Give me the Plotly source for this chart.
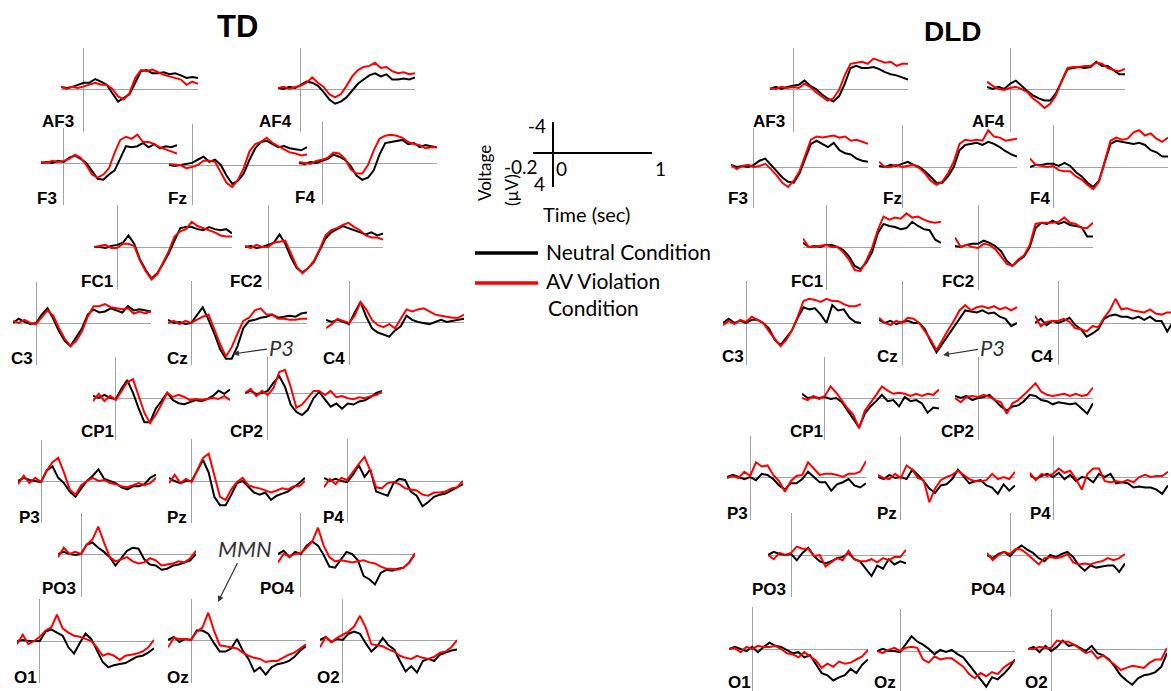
import plotly.graph_objects as go

# ---------------- data ----------------
TIME = [-0.2, -0.15, -0.1, -0.05, 0.0, 0.05, 0.1, 0.15, 0.2, 0.25, 0.3, 0.35, 0.4,
        0.45, 0.5, 0.55, 0.6, 0.65, 0.7, 0.75, 0.8, 0.85, 0.9, 0.95, 1.0]
CHANNELS = ["AF3", "AF4", "F3", "Fz", "F4", "FC1", "FC2", "C3", "Cz", "C4",
            "CP1", "CP2", "P3", "Pz", "P4", "PO3", "PO4", "O1", "Oz", "O2"]
GROUPS = ["TD", "DLD"]
CONDITIONS = ["Neutral Condition", "AV Violation Condition"]

# TD group (voltage in microvolts, negative plotted upward)
TD_AF3_NEU = [-0.2,-0.1,-0.2,-0.4,-0.6,-0.6,-0.95,-0.7,-0.4,0.4,1.2,0.85,0.5,-0.6,-1.7,-1.8,-1.5,-1.5,-1.6,-1.4,-1.5,-1.3,-1.05,-1.15,-1.05]
TD_AF3_AV = [-0.2,0,-0.2,-0.1,-0.25,-0.4,-0.6,-0.4,-0.4,0,0.7,1.0,0.4,-1.05,-1.8,-1.7,-1.85,-1.6,-1.35,-1.2,-1.05,-0.9,-0.4,-0.7,-0.5]
TD_AF4_NEU = [-0.1,0,-0.2,-0.1,-0.4,-0.7,-0.6,-0.3,0.3,1.0,1.4,1.2,0.8,0.2,-0.5,-0.9,-1.3,-1.5,-1.2,-1.4,-0.9,-0.9,-1.0,-0.9,-1.1]
TD_AF4_AV = [-0.1,-0.2,0,-0.2,-0.3,-0.6,-1.1,-0.6,-0.2,0.5,0.8,0.5,-0.3,-1.2,-1.8,-2.1,-2.2,-2.5,-2.0,-2.1,-1.7,-1.5,-1.6,-1.4,-1.5]
TD_F3_NEU = [0,-0.1,0,-0.2,-0.1,-0.5,-0.7,-0.4,0,0.8,1.5,1.6,1.1,0.7,-0.4,-1.6,-1.5,-1.6,-1.9,-1.5,-1.8,-1.4,-1.6,-1.5,-1.7]
TD_F3_AV = [-0.1,0,-0.2,-0.1,-0.2,-0.4,-0.8,-0.5,0.2,1.1,1.4,1.1,0.5,-1.0,-2.2,-2.5,-2.3,-2.7,-2.0,-2.0,-1.8,-1.5,-1.3,-1.1,-0.9]
TD_Fz_NEU = [0,0.1,0,-0.1,-0.2,-0.5,-0.8,-0.3,-0.5,0,1.0,1.8,1.5,0.8,-0.5,-1.6,-2.2,-2.3,-2.0,-1.7,-1.8,-1.6,-1.5,-1.4,-1.7]
TD_Fz_AV = [-0.1,0,0,0.3,0.2,0,-0.4,-0.4,-0.3,0.7,1.7,2.1,1.4,0.3,-1.3,-2.0,-2.2,-2.6,-2.1,-1.8,-1.5,-1.2,-1.1,-0.9,-1.0]
TD_F4_NEU = [0,0.1,-0.1,0,-0.2,-0.4,-0.8,-0.6,-0.3,0.3,1.2,1.6,1.4,0.7,-0.8,-1.9,-2.0,-2.1,-2.2,-1.8,-1.9,-1.5,-1.7,-1.6,-1.5]
TD_F4_AV = [-0.1,0,0.1,-0.2,-0.3,-0.5,-1.0,-0.9,-0.4,0.6,1.0,1.0,0.2,-1.2,-2.3,-2.6,-2.7,-2.6,-2.4,-2.0,-1.8,-1.7,-1.4,-1.5,-1.5]
TD_FC1_NEU = [0,0,0.1,-0.1,-0.2,-0.4,-1.1,-0.3,1.2,2.2,3.0,2.5,1.6,0.6,-0.6,-1.8,-1.9,-1.9,-1.7,-1.6,-1.9,-1.7,-1.6,-1.7,-1.3]
TD_FC1_AV = [0,-0.1,-0.2,0.1,0.1,-0.3,-0.3,-0.1,1.3,2.3,3.1,2.6,1.5,0.4,-1.0,-1.5,-1.7,-2.4,-2.0,-1.8,-1.6,-1.4,-1.1,-1.0,-1.0]
TD_FC2_NEU = [0,-0.1,0.1,0,-0.2,-0.4,-1.2,-0.3,1.0,2.0,2.4,2.0,1.4,0.3,-0.8,-1.4,-1.7,-2.0,-1.8,-1.6,-1.4,-1.2,-1.4,-1.1,-1.3]
TD_FC2_AV = [-0.1,0.1,-0.2,0,0,-0.4,-0.5,-0.6,0.6,1.9,2.5,2.0,1.3,0.2,-1.1,-1.6,-1.8,-2.1,-2.3,-1.9,-1.6,-1.1,-0.9,-0.9,-0.7]
TD_C3_NEU = [0,-0.4,-0.1,0.1,0,-0.8,-1.4,-0.4,0.8,1.7,2.2,1.3,0.5,-0.8,-1.3,-1.0,-1.1,-1.4,-1.2,-1.0,-1.6,-1.2,-1.3,-1.2,-1.1]
TD_C3_AV = [-0.2,0,-0.3,0,0.1,-0.5,-1.2,-0.7,0.5,1.5,2.2,1.7,0.8,-0.6,-1.6,-1.6,-1.8,-1.5,-1.4,-1.3,-1.4,-0.9,-1.1,-0.9,-1.1]
TD_Cz_NEU = [-0.3,0,-0.1,0.1,0,-0.8,-1.5,-0.3,1.0,2.5,3.4,3.4,2.2,0.5,-0.2,-0.3,-0.5,-0.6,-0.8,-0.5,-0.6,-0.7,-0.6,-0.9,-1.0]
TD_Cz_AV = [0,-0.2,0.1,-0.2,0,-0.3,-0.6,-0.8,0.6,2.0,3.2,2.3,1.0,-0.2,-0.5,-1.2,-1.4,-0.8,-0.8,-0.4,-0.4,-0.3,-0.3,-0.4,-0.4]
TD_C4_NEU = [-0.2,0,-0.2,0,0.2,-0.9,-1.9,-0.5,0.6,1.0,1.2,1.4,0.8,0.4,-0.6,-0.2,0,0.1,0.2,0,-0.2,0,-0.1,-0.2,-0.3]
TD_C4_AV = [0.6,0.2,-0.3,-0.1,0.1,-0.6,-1.9,-1.2,-0.2,0.3,0.5,0.2,0.6,-0.3,-1.2,-1.0,-1.2,-1.3,-1.0,-0.7,-0.6,-0.5,-0.4,-0.4,-0.7]
TD_CP1_NEU = [-0.2,0,-0.3,0,0.1,-0.9,-1.7,-0.5,1.0,2.3,2.3,1.0,0.3,-0.5,0.2,0.5,0.6,0.4,0.2,0.3,0.1,-0.2,-0.7,-0.4,-0.8]
TD_CP1_AV = [0.3,-0.4,0.3,-0.2,0.2,-0.6,-1.5,-1.8,-0.3,1.4,2.4,1.6,0.6,-0.5,-0.1,-0.3,-0.1,0.2,0.1,0.2,0.1,0,0.1,-0.2,0.2]
TD_CP2_NEU = [0,-0.2,0.1,0,-0.2,-1.0,-1.6,-0.6,1.1,1.8,2.1,1.6,0.5,-0.1,0.6,1.3,1.0,1.5,1.0,1.1,0.8,0.7,0.4,0,-0.2]
TD_CP2_AV = [0,-0.4,0.3,-0.2,0.2,-0.5,-2.0,-2.2,-0.6,1.4,1.1,0.4,-0.2,-0.2,0.2,-0.2,0.4,0.3,0.5,0.6,0.4,0.5,0.3,0.2,-0.1]
TD_P3_NEU = [0,-0.3,-0.1,0,0.1,-1.0,-1.4,-0.3,0.2,1.0,1.5,0.7,0,-0.5,-1.1,-0.2,0,0.2,0.6,0.8,0.5,0.5,0.3,-0.3,-0.6]
TD_P3_AV = [0.3,-0.5,0.2,-0.3,0.1,-1.0,-1.8,-2.2,-0.8,0.8,1.3,0.4,0,-0.3,0,-0.1,0.2,0.3,0.5,0.6,0.4,0.2,0.4,0.2,-0.3]
TD_Pz_NEU = [-0.3,0,0.2,0,0,-1.0,-2.0,-0.8,1.5,2.3,2.3,1.3,0.2,0,0.6,1.1,1.3,1.1,1.8,1.4,1.2,1.0,0.6,0.2,-0.3]
TD_Pz_AV = [0.2,-0.6,0.2,-0.2,0.1,-1.0,-2.2,-2.6,-0.6,1.5,1.8,0.8,0.1,-0.3,0.4,0.6,0.7,0.9,1.1,0.9,0.7,0.8,0.5,0.5,0]
TD_P4_NEU = [-0.3,0,-0.2,0,0.1,-0.6,-1.5,-0.4,-1.1,1.0,1.2,1.4,0.2,-0.2,-0.1,1.0,1.4,2.4,2.0,1.5,1.3,1.2,0.9,0.6,0.3]
TD_P4_AV = [0.6,-0.2,0.3,-0.3,-0.1,-0.9,-1.6,-2.3,-1.0,0.6,0.7,0.2,0.1,0.3,0.7,0.8,0.9,1.3,1.4,1.1,1.1,1.0,0.7,0.6,0]
TD_PO3_NEU = [0,-0.2,0,0.1,0,-0.9,-1.1,-0.6,-0.2,0.3,1.1,0.4,-0.3,-0.6,-0.5,0.5,1.0,1.1,1.5,1.4,1.1,1.0,0.8,0.6,0]
TD_PO3_AV = [0.3,-0.6,0,-0.2,0,-0.9,-1.4,-2.6,-1.1,0.3,0.7,0.5,0.3,0.7,0.9,0.8,0.4,0.6,1.1,1.0,0.9,0.7,0.8,0.4,-0.3]
TD_PO4_NEU = [0,-0.3,0.3,-0.2,0,-0.8,-1.2,-0.8,0.1,1.2,1.3,0.6,-0.2,0,0.6,2.1,2.4,2.9,1.8,1.5,1.6,1.4,1.3,0.8,0]
TD_PO4_AV = [0.8,0,0.2,0,-0.1,-0.6,-1.2,-2.5,-0.8,0.3,0.7,0.6,0.7,0.8,0.7,0.6,0.8,0.9,1.2,1.4,1.4,1.5,1.3,0.8,-0.1]
TD_O1_NEU = [0,-0.1,0,0,0,-0.9,-1.1,-0.8,-0.5,0.6,1.2,0.2,-0.7,-0.2,0.9,2.0,2.5,2.3,2.2,2.1,1.8,1.5,1.4,1.1,0.7]
TD_O1_AV = [0.3,-0.6,0.3,0,-0.4,-1.0,-1.3,-2.5,-1.2,-0.8,-0.5,-0.4,-0.2,0,0.6,1.4,1.2,1.4,1.8,1.4,1.3,1.2,1.0,0.6,-0.1]
TD_Oz_NEU = [0,-0.3,0.2,-0.1,0,-0.9,-0.9,-0.6,0.3,1.1,1.1,0.8,-0.1,1.0,1.8,3.0,2.6,3.3,2.6,2.3,2.2,2.0,1.6,1.0,0.6]
TD_Oz_AV = [0.7,-0.2,-0.1,-0.1,0,-0.8,-1.2,-2.6,-0.9,0.5,0.6,0.7,0.8,1.2,1.5,1.7,1.8,2.1,2.0,2.0,1.7,1.4,1.2,0.8,0.4]
TD_O2_NEU = [0,-0.3,0.2,-0.1,0,-0.6,-0.8,-0.6,0.3,1.1,0.6,-0.2,0.5,0.9,2.0,3.0,2.5,3.1,2.0,1.8,2.0,1.4,1.2,1.0,0.9]
TD_O2_AV = [0.7,-0.3,0.2,-0.2,-0.5,-0.8,-1.3,-2.3,-1.2,0.4,0.5,0.6,0.9,1.1,1.5,1.7,1.8,1.5,1.7,1.8,1.6,1.2,1.1,0.7,0]

# DLD group
DLD_AF3_NEU = [0,-0.2,0,-0.2,-0.3,-0.4,-0.8,-0.3,0,0.5,0.9,1.2,0.7,-0.5,-2.0,-2.2,-2.0,-2.0,-2.1,-1.9,-1.6,-1.4,-1.3,-1.1,-0.9]
DLD_AF3_AV = [-0.1,0,-0.2,-0.1,-0.2,-0.1,-0.5,-0.2,0.3,0.7,1.1,0.9,0.1,-1.3,-2.4,-2.5,-2.6,-2.4,-2.9,-2.7,-2.5,-2.6,-2.2,-2.4,-2.4]
DLD_AF4_NEU = [-0.2,0,-0.2,0,-0.5,-0.8,-0.3,0.2,0.6,0.9,1.1,1.1,0.4,-0.8,-1.9,-2.0,-2.1,-2.0,-2.1,-2.6,-2.2,-2.2,-1.8,-1.4,-1.4]
DLD_AF4_AV = [-0.7,-0.3,0,0.1,-0.1,-0.2,0,0.3,0.9,1.3,1.8,1.4,0.6,-0.8,-2.0,-2.1,-2.1,-2.2,-2.2,-2.5,-2.4,-2.0,-1.8,-1.7,-1.9]
DLD_F3_NEU = [-0.2,0,-0.1,0,-0.2,-0.6,-0.8,-0.2,0.5,1.0,1.4,1.5,0.6,-0.8,-2.2,-2.5,-2.2,-1.9,-2.3,-1.6,-1.3,-1.2,-0.8,-0.6,-0.5]
DLD_F3_AV = [-0.2,0.2,-0.1,-0.2,0,-0.1,-0.3,0.2,0.8,1.5,1.9,1.3,0.4,-1.2,-2.6,-2.9,-2.8,-2.9,-3.0,-2.8,-2.9,-2.5,-2.6,-2.4,-2.2]
DLD_Fz_NEU = [-0.1,0,-0.2,-0.1,-0.3,-0.5,-0.2,0,0.4,1.0,1.5,1.5,0.9,0,-1.6,-2.1,-2.2,-2.3,-2.1,-2.4,-2.2,-1.9,-1.5,-1.2,-1.0]
DLD_Fz_AV = [-0.5,0,0,-0.2,0,-0.1,-0.2,0.1,0.6,1.3,1.7,1.4,0.6,-0.5,-2.2,-2.6,-2.5,-2.6,-2.5,-3.5,-2.9,-2.8,-2.5,-2.6,-2.7]
DLD_F4_NEU = [0,-0.2,-0.2,-0.3,-0.3,-0.1,-0.4,-0.1,0.5,0.9,1.5,1.9,1.3,-0.5,-2.2,-2.5,-2.4,-2.3,-2.2,-2.3,-2.1,-1.6,-1.4,-1.0,-1.0]
DLD_F4_AV = [-0.8,-0.2,-0.1,0,-0.1,0.3,0.4,0.4,0.9,1.2,1.7,2.1,1.4,-0.6,-2.5,-2.8,-2.6,-2.7,-3.3,-3.5,-3.0,-3.2,-2.7,-2.4,-2.8]
DLD_FC1_NEU = [-0.4,0,-0.1,0,-0.2,-0.2,0,0.3,0.9,1.8,2.1,1.5,0.5,-1.3,-2.2,-2.0,-1.9,-1.7,-1.8,-2.4,-2.0,-1.7,-1.6,-0.7,-0.4]
DLD_FC1_AV = [-0.8,0,0,-0.1,-0.2,0,0,0.5,1.2,2.2,2.3,1.3,0.1,-1.6,-2.9,-2.6,-2.8,-2.7,-3.2,-2.8,-2.9,-2.6,-2.4,-2.3,-2.4]
DLD_FC2_NEU = [-0.1,0,-0.2,-0.3,-0.3,-0.6,-0.4,-0.1,0.4,1.3,1.8,1.3,0.9,0,-1.8,-2.3,-2.2,-2.5,-2.2,-2.4,-2.1,-2.0,-1.9,-1.0,-1.0]
DLD_FC2_AV = [-0.9,0,-0.2,0,0.1,-0.3,-0.2,0.2,0.9,1.6,1.8,1.2,0.8,-0.2,-2.2,-2.3,-2.3,-2.3,-2.4,-2.8,-2.3,-2.2,-1.8,-1.8,-2.3]
DLD_C3_NEU = [0,-0.4,0,-0.2,0,-0.3,-0.3,0,0.5,1.6,2.1,1.4,0.7,-0.5,-1.5,-1.3,-1.4,-0.8,0,-1.7,-1.2,-1.3,-0.5,-0.1,0]
DLD_C3_AV = [0.2,-0.2,0.1,-0.3,-0.1,-0.6,-0.3,0,0.8,1.5,2.2,1.6,0.7,-0.6,-2.1,-2.3,-2.2,-2.0,-2.3,-2.1,-2.1,-1.8,-1.6,-1.6,-1.8]
DLD_Cz_NEU = [-0.3,0,-0.2,0.1,-0.1,-0.2,0,0,0.6,1.8,2.8,2.0,1.2,0.4,-0.5,-1.2,-1.1,-1.0,-1.2,-0.9,-1.0,-0.6,-0.4,0.3,0]
DLD_Cz_AV = [-0.5,0,0.2,-0.2,0,-0.5,-0.4,0,0.8,1.6,2.6,1.6,0.7,-0.2,-1.2,-1.7,-1.2,-1.5,-1.6,-1.4,-1.6,-1.3,-1.5,-1.2,-1.5]
DLD_C4_NEU = [0,-0.4,0.2,-0.2,0,-0.2,-0.5,0.2,0.6,1.3,1.0,0.6,-0.4,-0.7,-0.8,-0.6,-0.6,-0.4,-0.6,-0.3,-0.6,-0.2,-0.2,0.8,-0.1]
DLD_C4_AV = [-0.7,0.3,-0.1,-0.2,-0.2,-0.4,-0.1,0.5,0.6,0.8,0.3,0.4,-0.5,-1.2,-2.3,-1.3,-1.4,-1.2,-1.1,-1.0,-1.3,-0.9,-0.8,-1.0,-1.0]
DLD_CP1_NEU = [-0.4,0,-0.1,0,-0.1,0.1,0,0.4,1.2,2.0,2.8,1.5,0.8,0.3,-0.3,0.3,0.2,0.8,-0.1,0.3,0.2,0.5,1.4,0.9,1.0]
DLD_CP1_AV = [0,0.2,-0.2,0.1,-0.2,-1.1,-0.5,0.3,1.0,1.6,2.9,1.2,0.5,-0.3,-1.1,-0.7,-0.4,-0.5,-0.4,-0.2,-0.4,-0.2,-0.4,-0.3,-0.8]
DLD_CP2_NEU = [-0.2,0,-0.2,0.2,0,-0.1,-0.3,0.3,0.8,1.2,0.8,0.7,0.3,-0.3,-0.2,0.2,0.3,0.6,0.4,0.5,0.6,0.5,1.0,1.5,0.5]
DLD_CP2_AV = [0,0.4,-0.1,-0.2,-0.1,-0.3,-0.1,0.2,0.4,1.5,0.5,0.2,-0.3,-0.9,-1.4,-0.6,-0.3,-0.2,-0.3,-0.4,-0.2,-0.4,-0.2,-0.3,-1.0]
DLD_P3_NEU = [0,-0.2,0,0.2,0,0.3,-0.3,-0.2,0.2,0.8,1.2,0.6,0.6,0.2,-0.5,0,0.5,0.5,1.3,0.7,0.5,0.2,0.8,1.0,0.6]
DLD_P3_AV = [0.1,-0.1,0.1,-0.5,-0.1,-1.4,-1.0,-1.1,-0.2,0.4,1.4,0.4,-0.1,-0.2,-1.4,-0.8,-0.2,-0.3,-0.3,-0.2,0,-0.3,-0.3,-0.5,-1.5]
DLD_Pz_NEU = [0,0.2,-0.2,0.1,0,0.2,-0.7,-0.2,0.4,1.1,1.5,0.8,0.7,0.2,-0.7,-0.1,0.6,0.4,0.3,0.8,1.0,1.6,0.7,1.3,0.8]
DLD_Pz_AV = [-0.2,0.1,0.2,-0.3,0.1,-1.1,-0.7,0.1,0.3,2.4,1.1,0.3,0,-0.2,-0.6,-0.2,0.2,0.4,0.4,0.3,-0.3,0.2,0,0.2,-0.5]
DLD_P4_NEU = [-0.2,0.2,-0.1,-0.3,0,-0.4,0.2,-0.2,0.4,0,0.1,0.5,-0.3,0,-0.3,0.6,0.5,0.6,1.0,0.9,1.0,1.0,1.2,1.6,0.8]
DLD_P4_AV = [-0.4,0.3,-0.3,-0.1,-0.3,-0.8,-0.4,-0.6,0.2,1.2,-0.3,-0.8,-0.8,0.4,0.5,0.4,0.5,0.3,0.5,0,-0.2,0,-0.1,-0.1,-0.5]
DLD_PO3_NEU = [0,-0.3,-0.1,0,-0.1,0.5,-0.2,-0.7,0.1,0.6,0.8,0.6,0.3,0.2,-0.2,0.4,0.6,1.3,2.0,1.0,1.3,0.4,0.9,0.6,0.8]
DLD_PO3_AV = [0,0.4,-0.2,0,-0.2,-0.8,-0.6,-0.6,0.1,0,1.1,0.7,0.3,0.5,-0.4,0.4,0.6,0.6,0.4,0.7,0.3,0.5,0.2,0.2,-0.5]
DLD_PO4_NEU = [0,0.3,-0.1,-0.3,0.1,-0.5,-0.9,-0.5,-0.2,0.3,0.6,0,0.2,-0.1,-0.3,0.2,1.0,1.5,1.0,1.2,1.1,1.0,1.0,1.6,0.8]
DLD_PO4_AV = [-0.2,0.5,0,-0.3,-0.1,-0.6,-0.5,-0.1,0.4,0.9,0.3,0.2,0.3,0.2,-0.1,0.7,0.9,0.8,0.9,0.7,0.6,0.3,0.5,0.3,-0.1]
DLD_O1_NEU = [0,-0.2,0,0.2,-0.2,0.3,-0.2,-0.6,-0.3,-0.2,0.1,0.4,0.3,0.8,0.6,1.4,2.3,2.5,3.0,2.7,2.5,1.9,2.3,1.5,1.0]
DLD_O1_AV = [0,-0.1,0.3,-0.2,0,-0.3,-0.2,-0.2,-0.3,0,0.4,0.5,0.8,0.3,0.7,1.1,1.8,1.4,1.7,1.2,1.4,1.3,1.0,0.7,0.1]
DLD_Oz_NEU = [0,-0.2,0,0,0.1,-0.7,-1.4,-0.9,-0.6,-0.2,0.3,-0.1,0.1,-0.1,0.3,0.6,1.3,2.0,2.7,3.4,2.5,2.7,2.2,1.6,0.8]
DLD_Oz_AV = [0,0.2,-0.1,-0.3,0,-0.3,-0.4,-0.3,0.8,1.1,0.5,0.8,0.7,0.7,1.1,1.5,2.2,2.6,2.1,2.4,2.0,2.2,1.6,1.2,0.9]
DLD_O2_NEU = [0,-0.2,0.3,-0.3,0.2,-0.2,-0.8,-0.3,-0.4,-0.1,0.2,-0.3,0.4,0.6,1.0,1.7,2.5,3.0,3.4,2.8,2.5,2.4,2.2,1.7,0.4]
DLD_O2_AV = [0,0,-0.2,-0.1,-0.1,-0.8,-0.7,-0.7,-0.4,0,0.4,0.2,0.9,0.6,1.1,1.5,2.0,1.8,1.6,1.7,1.8,1.3,1.0,1.0,-0.1]

# ---------------- layout geometry (pixels: x_left, x_right, y_top, y_zero, y_bottom) ----------------
W, H = 1171, 691
GEOM = {
    "TD": {
        "AF3": (61, 198, 48, 89, 132), "AF4": (278, 415, 48, 89, 132),
        "F3": (41, 177, 128, 163, 205), "Fz": (169, 307, 124, 165, 205), "F4": (299, 437, 122, 163, 205),
        "FC1": (94, 232, 205, 247, 289), "FC2": (245, 383, 205, 247, 289),
        "C3": (13, 151, 282, 323, 365), "Cz": (168, 307, 281, 323, 365), "C4": (326, 464, 281, 322, 365),
        "CP1": (93, 230, 357, 398, 440), "CP2": (245, 382, 357, 393, 440),
        "P3": (18, 156, 440, 481, 523), "Pz": (169, 305, 439, 481, 523), "P4": (324, 463, 439, 481, 523),
        "PO3": (58, 196, 513, 554, 597), "PO4": (278, 415, 513, 554, 597),
        "O1": (17, 154, 599, 641, 683), "Oz": (168, 306, 599, 640, 683), "O2": (320, 457, 599, 640, 683),
    },
    "DLD": {
        "AF3": (770, 908, 48, 89, 132), "AF4": (987, 1125, 48, 89, 132),
        "F3": (731, 868, 128, 167, 208), "Fz": (879, 1017, 125, 167, 208), "F4": (1030, 1168, 125, 167, 208),
        "FC1": (803, 941, 205, 247, 290), "FC2": (955, 1093, 205, 247, 290),
        "C3": (723, 861, 281, 323, 365), "Cz": (879, 1017, 281, 323, 365), "C4": (1035, 1173, 281, 323, 365),
        "CP1": (802, 939, 357, 398, 440), "CP2": (955, 1093, 357, 398, 440),
        "P3": (727, 866, 436, 477, 520), "Pz": (878, 1015, 436, 477, 520), "P4": (1030, 1168, 436, 477, 520),
        "PO3": (768, 906, 513, 555, 597), "PO4": (987, 1125, 513, 555, 597),
        "O1": (729, 868, 607, 649, 691), "Oz": (877, 1015, 609, 651, 691), "O2": (1028, 1167, 609, 649, 691),
    },
}
LABEL_POS = {
    "TD": {
        "AF3": (58, 121), "AF4": (275, 121), "F3": (47, 199), "Fz": (177, 199), "F4": (305, 197),
        "FC1": (97, 281), "FC2": (246, 281), "C3": (22, 358), "Cz": (177, 358), "C4": (334, 358),
        "CP1": (97, 431), "CP2": (246, 431), "P3": (29, 517), "Pz": (177, 517), "P4": (333, 517),
        "PO3": (59, 588), "PO4": (277, 588), "O1": (25, 677), "Oz": (178, 677), "O2": (328, 677),
    },
    "DLD": {
        "AF3": (769, 121), "AF4": (988, 121), "F3": (738, 199), "Fz": (892, 199), "F4": (1040, 199),
        "FC1": (807, 281), "FC2": (958, 281), "C3": (733, 357), "Cz": (887, 357), "C4": (1042, 357),
        "CP1": (807, 431), "CP2": (957, 431), "P3": (737, 513), "Pz": (887, 513), "P4": (1040, 513),
        "PO3": (769, 589), "PO4": (988, 589), "O1": (739, 682), "Oz": (885, 682), "O2": (1036, 682),
    },
}
PX_PER_UV = 10.5
AXIS_GREY = "#a3a3a3"
COLORS = {"Neutral Condition": "#000000", "AV Violation Condition": "#ff0000"}
LABEL_FONT = dict(family="Liberation Sans, Arial, sans-serif", size=17, color="black")
TEXT_FONT = dict(family="Lato, Open Sans, sans-serif", size=21, color="black")
TICK_FONT = dict(family="Lato, Open Sans, sans-serif", size=19, color="black")
SMALL_FONT = dict(family="Lato, Open Sans, sans-serif", size=17, color="black")


def px(x):
    return x / W


def py(y):
    return 1 - y / H


def text_note(txt, x, y, font, xanchor="center", yanchor="middle", **kw):
    return dict(x=px(x), y=py(y), xref="paper", yref="paper", text=txt, showarrow=False,
                font=font, xanchor=xanchor, yanchor=yanchor, **kw)


fig = go.Figure()
layout = dict(
    width=W, height=H, autosize=False,
    margin=dict(l=0, r=0, t=0, b=0, pad=0),
    paper_bgcolor="white", plot_bgcolor="rgba(0,0,0,0)",
    showlegend=False,
)
annotations = []

n = 0
for g in GROUPS:
    for ch in CHANNELS:
        n += 1
        x0, x1, yt, yb, ybt = GEOM[g][ch]
        t0, t1 = TIME[0], TIME[-1]
        xr_end = t1
        if x1 > W:
            xr_end = t0 + (W - x0) / (x1 - x0) * (t1 - t0)
            x1 = W
        ybt_c = min(ybt, H)
        ytop_val = -(yb - yt) / PX_PER_UV
        ybot_val = (ybt_c - yb) / PX_PER_UV
        xa = "xaxis" if n == 1 else f"xaxis{n}"
        ya = "yaxis" if n == 1 else f"yaxis{n}"
        xr = "x" if n == 1 else f"x{n}"
        yr = "y" if n == 1 else f"y{n}"
        layout[xa] = dict(domain=[px(x0), px(x1)], range=[t0, xr_end], anchor=yr,
                          showgrid=False, showticklabels=False, ticks="", showline=False,
                          zeroline=True, zerolinecolor=AXIS_GREY, zerolinewidth=1, fixedrange=True)
        layout[ya] = dict(domain=[py(ybt_c), py(yt)], range=[ybot_val, ytop_val], anchor=xr,
                          showgrid=False, showticklabels=False, ticks="", showline=False,
                          zeroline=True, zerolinecolor=AXIS_GREY, zerolinewidth=1, fixedrange=True)
        neu = globals()[f"{g}_{ch}_NEU"]
        av = globals()[f"{g}_{ch}_AV"]
        for cond, vals in zip(CONDITIONS, [neu, av]):
            fig.add_trace(go.Scatter(x=TIME, y=vals, mode="lines", xaxis=xr, yaxis=yr,
                                     line=dict(color=COLORS[cond], width=2), name=cond,
                                     hoverinfo="skip"))
        lx, ly = LABEL_POS[g][ch]
        annotations.append(text_note(f"<b>{ch}</b>", lx, ly, LABEL_FONT))

# scale-legend axes (an empty trace makes Plotly draw this subplot)
n += 1
layout[f"xaxis{n}"] = dict(domain=[px(533), px(652)], range=[-0.2, 1.0], anchor=f"y{n}",
                           showgrid=False, showticklabels=False, ticks="", showline=False,
                           zeroline=True, zerolinecolor="black", zerolinewidth=1.6, fixedrange=True)
layout[f"yaxis{n}"] = dict(domain=[py(187), py(122)], range=[4.2, -3.8], anchor=f"x{n}",
                           showgrid=False, showticklabels=False, ticks="", showline=False,
                           zeroline=True, zerolinecolor="black", zerolinewidth=1.6, fixedrange=True)
fig.add_trace(go.Scatter(x=[], y=[], mode="lines", xaxis=f"x{n}", yaxis=f"y{n}",
                         hoverinfo="skip", showlegend=False))

# titles
annotations.append(text_note("<b>TD</b>", 237, 27,
                             dict(family="Liberation Sans, Arial", size=31, color="black")))
annotations.append(text_note("<b>DLD</b>", 953, 32,
                             dict(family="Liberation Sans, Arial", size=28, color="black")))

# scale legend text
for txt, (tx, ty) in [("-4", (537, 125)), ("4", (539, 184)), ("-0.2", (521, 167)),
                      ("0", (561, 168)), ("1", (660, 168))]:
    annotations.append(text_note(txt, tx, ty, TICK_FONT))
annotations.append(text_note("Time (sec)", 586, 214, dict(TEXT_FONT, size=20)))
annotations.append(text_note("Voltage", 484, 173, SMALL_FONT, textangle=-90))
annotations.append(text_note("(µV)", 511, 190, SMALL_FONT, textangle=-90))

# condition legend
legend_items = [(CONDITIONS[0], "Neutral Condition", 253, 251),
                (CONDITIONS[1], "AV Violation", 283, 280)]
shapes = []
for cond, txt, ly, ty in legend_items:
    shapes.append(dict(type="line", xref="paper", yref="paper", x0=px(475), x1=px(538),
                       y0=py(ly), y1=py(ly), line=dict(color=COLORS[cond], width=3.5)))
    annotations.append(text_note(txt, 544, ty, TEXT_FONT, xanchor="left"))
annotations.append(text_note("Condition", 546, 307, TEXT_FONT, xanchor="left"))

# component call-outs
ITAL = dict(family="Lato, Open Sans, sans-serif", size=22, color="#333333")
for txt, (hx, hy), (tx, ty) in [("P3", (233, 354), (281, 347)),
                                ("P3", (943, 355), (992, 347)),
                                ("MMN", (218, 602), (245, 548))]:
    annotations.append(dict(x=px(hx), y=py(hy), xref="paper", yref="paper",
                            text=f"<i>{txt}</i>", showarrow=True, ax=tx - hx, ay=ty - hy,
                            arrowhead=2, arrowsize=1, arrowwidth=1.2, arrowcolor="#333333",
                            font=ITAL))

layout["annotations"] = annotations
layout["shapes"] = shapes
fig.update_layout(**layout)
fig.write_html("out.html")
